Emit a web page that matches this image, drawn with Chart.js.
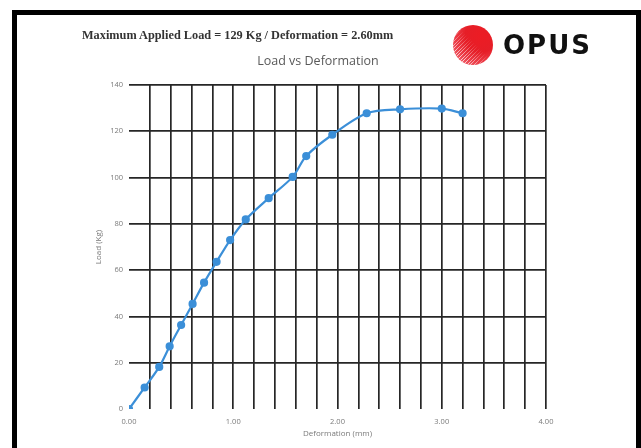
<!DOCTYPE html>
<html>
<head>
<meta charset="utf-8">
<title>Load vs Deformation</title>
<script src="https://cdn.jsdelivr.net/npm/chart.js@4.4.0/dist/chart.umd.min.js"></script>
<style>
  html, body { margin: 0; padding: 0; background: #fff; }
  #page { position: relative; width: 641px; height: 448px; overflow: hidden; background: #fff; }
  #chart { position: absolute; left: 0; top: 0; }
  .frame { position: absolute; background: #000; }
  #header {
    position: absolute; left: 82px; top: 28px;
    font-family: "Liberation Serif", "DejaVu Serif", serif;
    font-weight: bold; font-size: 12.3px; color: #333; white-space: nowrap;
  }
  #logo-mark {
    position: absolute; left: 453px; top: 25px; width: 40px; height: 40px;
    border-radius: 50%; overflow: hidden;
    background: radial-gradient(circle at 70% 28%, #ec1c24 0%, #e61e27 40%, #ec3d48 65%, #f58a94 100%);
  }
  #logo-mark::after {
    content: ""; position: absolute; inset: 0;
    background: repeating-linear-gradient(-45deg, rgba(255,255,255,0.7) 0 0.8px, rgba(255,255,255,0) 0.8px 2.6px);
    -webkit-mask-image: linear-gradient(45deg, #000 0%, #000 20%, transparent 55%);
    mask-image: linear-gradient(45deg, #000 0%, #000 20%, transparent 55%);
  }
  #logo-text {
    position: absolute; left: 503px; top: 30px;
    font-family: "DejaVu Sans", "Open Sans", sans-serif;
    font-weight: bold; font-size: 26px; line-height: 30px; color: #111; letter-spacing: 2px;
  }
</style>
</head>
<body>
<div id="page">
  <canvas id="chart" width="641" height="448"></canvas>
  <div class="frame" style="left:12px; top:10px; width:629px; height:5px;"></div>
  <div class="frame" style="left:12px; top:10px; width:5px; height:438px;"></div>
  <div class="frame" style="left:636px; top:10px; width:5px; height:438px;"></div>
  <div id="header">Maximum Applied Load = 129 Kg / Deformation = 2.60mm</div>
  <div id="logo-mark"></div>
  <div id="logo-text">OPUS</div>
</div>
<script>
// readings taken off the scanned chart
const deformation = [0, 0.15, 0.29, 0.39, 0.50, 0.61, 0.72, 0.84, 0.97, 1.12, 1.34, 1.57, 1.70, 1.95, 2.28, 2.60, 3.00, 3.20];
const load = [0, 9.3, 18.2, 27.1, 36.3, 45.4, 54.6, 63.6, 73.0, 81.9, 91.1, 100.3, 109.3, 118.5, 127.8, 129.5, 129.8, 127.8];

const xMin = 0, xMax = 4, xGridStep = 0.2;
const yMin = 0, yMax = 140, yStep = 20;

const lineBlue = '#3b8fd8';
const gridDark = '#262626';
const labelGrey = '#7a7a7a';

const points = deformation.map((d, i) => ({ x: d, y: load[i] }));

function hideZero(ctx) {
  return Math.abs(ctx.tick.value) < 1e-9 ? 'rgba(0,0,0,0)' : gridDark;
}

new Chart(document.getElementById('chart'), {
  type: 'line',
  data: {
    datasets: [{
      label: 'Load',
      data: points,
      borderColor: lineBlue,
      backgroundColor: lineBlue,
      borderWidth: 2.2,
      pointRadius: 3,
      pointHoverRadius: 3,
      tension: 0.3,
      fill: false
    }]
  },
  options: {
    responsive: false,
    animation: false,
    layout: { padding: { left: 90, right: 95, top: 50, bottom: 9 } },
    plugins: {
      legend: { display: false },
      tooltip: { enabled: false },
      title: {
        display: true,
        text: 'Load vs Deformation',
        color: '#595959',
        font: { family: '"Open Sans", sans-serif', size: 12.5, weight: 'normal' },
        padding: { top: 4, bottom: 16 }
      }
    },
    scales: {
      x: {
        type: 'linear',
        min: xMin,
        max: xMax,
        border: { display: false },
        grid: { color: hideZero, lineWidth: 1.7, drawTicks: false },
        ticks: {
          stepSize: xGridStep,
          autoSkip: false,
          maxRotation: 0,
          padding: 8,
          color: labelGrey,
          font: { family: '"Open Sans", sans-serif', size: 7.5 },
          callback: v => Math.abs(v - Math.round(v)) < 1e-6 ? v.toFixed(2) : ''
        },
        title: {
          display: true,
          text: 'Deformation (mm)',
          color: labelGrey,
          font: { family: '"Open Sans", sans-serif', size: 8 },
          padding: { top: 0, bottom: 0 }
        },
        afterFit: s => { s.height = 30; }
      },
      y: {
        min: yMin,
        max: yMax,
        border: { display: false },
        grid: { color: hideZero, lineWidth: 1.7, drawTicks: false },
        ticks: {
          stepSize: yStep,
          padding: 6,
          color: labelGrey,
          font: { family: '"Open Sans", sans-serif', size: 7.5 }
        },
        title: {
          display: true,
          text: 'Load (Kg)',
          color: labelGrey,
          font: { family: '"Open Sans", sans-serif', size: 8 },
          padding: { top: 4, bottom: 4 }
        },
        afterFit: s => { s.width = 39; }
      }
    }
  }
});
</script>
</body>
</html>
